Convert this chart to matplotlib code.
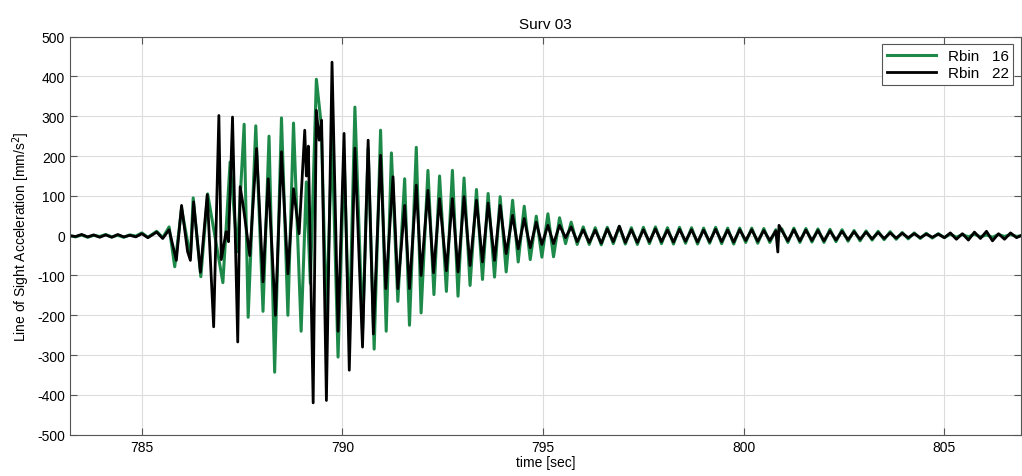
import numpy as np
import matplotlib.pyplot as plt

plt.rcParams['font.family'] = ['Liberation Sans', 'DejaVu Sans']
plt.rcParams['axes.unicode_minus'] = False

# Rbin 16 (green) - vertices
t_g = [783.2, 783.35, 783.5, 783.65, 783.8, 783.95, 784.1, 784.25, 784.4, 784.55,
       784.7, 784.85, 785.0, 785.15, 785.37, 785.52, 785.68, 785.82, 785.99, 786.21,
       786.28, 786.47, 786.64, 786.82, 787.02, 787.2, 787.38, 787.55, 787.65, 787.84,
       788.02, 788.17, 788.31, 788.48, 788.64, 788.78, 788.97, 789.1, 789.2, 789.35,
       789.47, 789.6, 789.74, 789.89, 790.04, 790.17, 790.31, 790.5, 790.64, 790.79,
       790.95, 791.09, 791.22, 791.38, 791.55, 791.67, 791.84, 791.96, 792.13, 792.28,
       792.42, 792.59, 792.74, 792.88, 793.03, 793.18, 793.34, 793.49, 793.63, 793.79,
       793.93, 794.08, 794.24, 794.38, 794.53, 794.68, 794.83, 794.97, 795.12, 795.26,
       795.41, 795.56, 795.7, 795.85]
v_g = [0, -3, 2, -4, 1, -2, 3, -3, 1, -4,
       2, -1, 7, -4, 11, -5, 22, -78, 68, -55,
       95, -103, 105, 0, -118, 185, -40, 280, -205, 276,
       -190, 250, -343, 296, -200, 283, -240, 135, -120, 393,
       280, -210, 250, -305, 200, -250, 323, -240, 220, -285,
       265, -240, 208, -165, 143, -225, 222, -194, 164, -148,
       150, -140, 164, -152, 145, -125, 116, -110, 106, -104,
       98, -91, 89, -66, 74, -60, 49, -54, 55, -53,
       45, -20, 34, -22]

# Rbin 22 (black)
t_k = [783.2, 783.35, 783.5, 783.65, 783.8, 783.95, 784.1, 784.25, 784.4, 784.55,
       784.7, 784.85, 785.0, 785.15, 785.37, 785.52, 785.68, 785.86, 785.99, 786.14,
       786.21, 786.29, 786.46, 786.63, 786.79, 786.92, 786.98, 787.1, 787.16, 787.26,
       787.39, 787.45, 787.52, 787.69, 787.86, 788.02, 788.15, 788.33, 788.48, 788.64,
       788.78, 788.92, 789.06, 789.1, 789.15, 789.27, 789.35, 789.42, 789.48, 789.6,
       789.74, 789.89, 790.04, 790.17, 790.31, 790.5, 790.64, 790.77, 790.95, 791.08,
       791.26, 791.38, 791.55, 791.67, 791.84, 791.96, 792.13, 792.27, 792.42, 792.59,
       792.74, 792.88, 793.03, 793.18, 793.34, 793.49, 793.63, 793.79, 793.93, 794.08,
       794.24, 794.38, 794.53, 794.68, 794.83, 794.97, 795.12, 795.26, 795.41, 795.56,
       795.7, 795.85]
v_k = [0, -2, 3, -3, 2, -4, 2, -4, 3, -3,
       1, -3, 5, -5, 9, -7, 15, -62, 76, -40,
       -62, 85, -92, 103, -229, 302, -60, 10, -15, 298,
       -267, 123, 80, -50, 219, -116, 143, -200, 211, -96,
       118, 5, 265, 150, 225, -420, 315, 240, 290, -414,
       436, -240, 257, -338, 220, -280, 240, -247, 202, -133,
       148, -133, 76, -133, 127, -100, 114, -93, 93, -88,
       93, -91, 98, -75, 89, -66, 82, -62, 76, -45,
       51, -33, 43, -30, 34, -22, 26, -20, 26, -5,
       22, -15]

# tail: small ringing after 796 s (same sample times for both bins)
t_tail = [796.0, 796.15, 796.3, 796.45, 796.6, 796.75, 796.9, 797.05, 797.2, 797.35,
          797.5, 797.65, 797.8, 797.95, 798.1, 798.25, 798.4, 798.55, 798.7, 798.85,
          799.0, 799.15, 799.3, 799.45, 799.6, 799.75, 799.9, 800.05, 800.2, 800.35,
          800.5, 800.65, 800.8, 800.85, 800.88, 800.95, 801.1, 801.25, 801.4, 801.55,
          801.7, 801.85, 802.0, 802.15, 802.3, 802.45, 802.6, 802.75, 802.9, 803.05,
          803.2, 803.35, 803.5, 803.65, 803.8, 803.95, 804.1, 804.25, 804.4, 804.55,
          804.7, 804.85, 805.0, 805.15, 805.3, 805.45, 805.6, 805.75, 805.9, 806.05,
          806.2, 806.35, 806.5, 806.65, 806.8, 806.95]
v_tail_g = [22, -22, 20, -23, 21, -20, 23, -21, 20, -22,
            21, -20, 22, -20, 20, -21, 21, -19, 20, -21,
            19, -19, 21, -20, 19, -21, 19, -17, 19, -19,
            18, -17, 15, -13, 10, 17, -17, 19, -17, 18,
            -16, 17, -17, 16, -15, 15, -14, 13, -13, 12,
            -11, 11, -10, 10, -9, 8, -8, 7, -7, 6,
            -6, 5, -5, 4, -4, 3, -3, 4, -3, 2,
            -4, 3, -2, 3, -2, 1]
v_tail_k = [15, -17, 14, -19, 17, -15, 24, -17, 15, -17,
            15, -15, 17, -15, 14, -16, 16, -14, 15, -16,
            14, -15, 16, -15, 14, -16, 15, -12, 15, -14,
            13, -12, 12, -41, 26, 13, -13, 15, -13, 14,
            -12, 13, -13, 12, -11, 11, -10, 10, -9, 9,
            -8, 8, -7, 7, -6, 6, -5, 5, -5, 4,
            -4, 4, -5, 7, -9, 5, -11, 9, -7, 11,
            -13, 5, -9, 7, -5, 2]

green = '#1e8a4a'

fig = plt.figure(figsize=(10.22, 4.77), dpi=100)
ax = fig.add_axes([0.0685, 0.0866, 0.9305, 0.8344])

ax.plot(t_g + t_tail, v_g + v_tail_g, color=green, lw=2.2, label='Rbin   16',
        solid_joinstyle='round')
ax.plot(t_k + t_tail, v_k + v_tail_k, color='black', lw=2.0, label='Rbin   22',
        solid_joinstyle='round')

ax.set_xlim(783.21, 806.91)
ax.set_ylim(-500, 500)
ax.set_xticks([785, 790, 795, 800, 805])
ax.set_yticks(np.arange(-500, 501, 100))
ax.grid(True, color='#dcdcdc', lw=0.8)
ax.tick_params(direction='in', top=True, right=True, labelsize=10, length=5, color='#555555')
for s in ax.spines.values():
    s.set_color('#555555')

ax.set_title('Surv 03', fontsize=11)
ax.set_xlabel('time [sec]', fontsize=10, labelpad=1)
ax.set_ylabel('Line of Sight Acceleration [mm/s$^2$]', fontsize=10)

leg = ax.legend(loc='upper right', fontsize=11, fancybox=False, edgecolor='#555555',
                handlelength=3.2, borderpad=0.3, labelspacing=0.2, framealpha=1)
leg.get_frame().set_linewidth(0.8)

fig.savefig('out.png', dpi=100)
